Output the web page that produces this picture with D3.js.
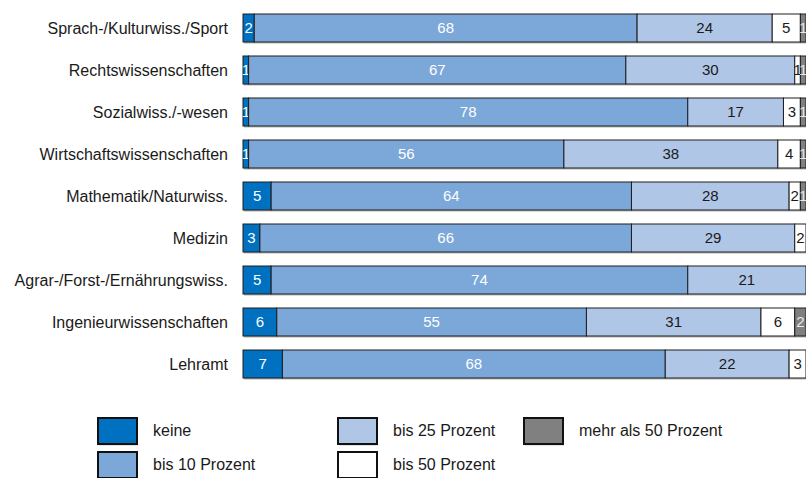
<!DOCTYPE html>
<html>
<head>
<meta charset="utf-8">
<script src="https://cdn.jsdelivr.net/npm/d3@7"></script>
<style>
  body { margin: 0; background: #fff; }
  svg { display: block; }
</style>
</head>
<body>
<div id="chart"></div>
<script>
// chart data
var categories = ['Sprach-/Kulturwiss./Sport', 'Rechtswissenschaften', 'Sozialwiss./-wesen',
  'Wirtschaftswissenschaften', 'Mathematik/Naturwiss.', 'Medizin',
  'Agrar-/Forst-/Ernährungswiss.', 'Ingenieurwissenschaften', 'Lehramt'];
var seriesNames = ['keine', 'bis 10 Prozent', 'bis 25 Prozent', 'bis 50 Prozent', 'mehr als 50 Prozent'];
var keine   = [2, 1, 1, 1, 5, 3, 5, 6, 7];
var bis10   = [68, 67, 78, 56, 64, 66, 74, 55, 68];
var bis25   = [24, 30, 17, 38, 28, 29, 21, 31, 22];
var bis50   = [5, 1, 3, 4, 2, 2, 0, 6, 3];
var mehr50  = [1, 1, 1, 1, 1, 0, 0, 2, 0];

var colors = ['#0070c0', '#7ba7d9', '#b0c6e6', '#ffffff', '#808080'];
var textColors = ['#ffffff', '#ffffff', '#1a1a1a', '#1a1a1a', '#e8e8e8'];

var width = 806, height = 478;

var svg = d3.select('#chart').append('svg')
    .attr('width', width)
    .attr('height', height)
    .style('font-family', '"Liberation Sans", Arial, sans-serif')
    .style('font-size', '16px');

var rows = categories.map(function(c, i) {
    return {cat: c, keine: keine[i], bis10: bis10[i], bis25: bis25[i], bis50: bis50[i], mehr50: mehr50[i]};
});
var keys = ['keine', 'bis10', 'bis25', 'bis50', 'mehr50'];
var stacked = d3.stack().keys(keys)(rows);

var x = d3.scaleLinear().domain([0, 100]).range([243, 806]);
var y = d3.scaleBand().domain(categories).range([7, 385])
    .paddingInner(1/3).paddingOuter(1/6);

// category labels
svg.append('g').selectAll('text')
    .data(categories)
    .join('text')
    .attr('x', 228)
    .attr('y', d => y(d) + y.bandwidth() / 2)
    .attr('dy', '0.36em')
    .attr('text-anchor', 'end')
    .attr('fill', '#1a1a1a')
    .text(d => d);

// shadow under each bar
svg.append('g').selectAll('rect')
    .data(rows)
    .join('rect')
    .attr('x', x(0) + 1)
    .attr('y', d => y(d.cat) + 1.5)
    .attr('width', x(100) - x(0))
    .attr('height', y.bandwidth())
    .attr('fill', '#b4b4b4');

var layers = svg.append('g').selectAll('g')
    .data(stacked)
    .join('g');

layers.selectAll('rect')
    .data(d => d.filter(s => s[1] - s[0] > 0))
    .join('rect')
    .attr('x', d => x(d[0]))
    .attr('y', d => y(d.data.cat))
    .attr('width', d => x(d[1]) - x(d[0]))
    .attr('height', y.bandwidth())
    .attr('fill', function() { return colors[d3.select(this.parentNode).datum().index]; })
    .attr('stroke', '#1e1e1e')
    .attr('stroke-width', 1);

layers.selectAll('text')
    .data(d => d.filter(s => s[1] - s[0] > 0))
    .join('text')
    .attr('x', d => (x(d[0]) + x(d[1])) / 2)
    .attr('y', d => y(d.data.cat) + y.bandwidth() / 2)
    .attr('dy', '0.36em')
    .attr('text-anchor', 'middle')
    .style('font-size', '15px')
    .attr('fill', function() { return textColors[d3.select(this.parentNode).datum().index]; })
    .text(d => d[1] - d[0]);

// legend
var legendPos = [[98, 418], [98, 452], [338, 418], [338, 452], [524, 418]];
var legend = svg.append('g').selectAll('g')
    .data(seriesNames)
    .join('g')
    .attr('transform', (d, i) => 'translate(' + legendPos[i][0] + ',' + legendPos[i][1] + ')');

legend.append('rect')
    .attr('x', 1).attr('y', 1.5)
    .attr('width', 39).attr('height', 26)
    .attr('fill', '#c8c8c8');
legend.append('rect')
    .attr('width', 39).attr('height', 26)
    .attr('fill', (d, i) => colors[i])
    .attr('stroke', '#111')
    .attr('stroke-width', 2);
legend.append('text')
    .attr('x', 55)
    .attr('y', 12)
    .attr('dy', '0.36em')
    .attr('fill', '#1a1a1a')
    .text(d => d);
</script>
</body>
</html>
